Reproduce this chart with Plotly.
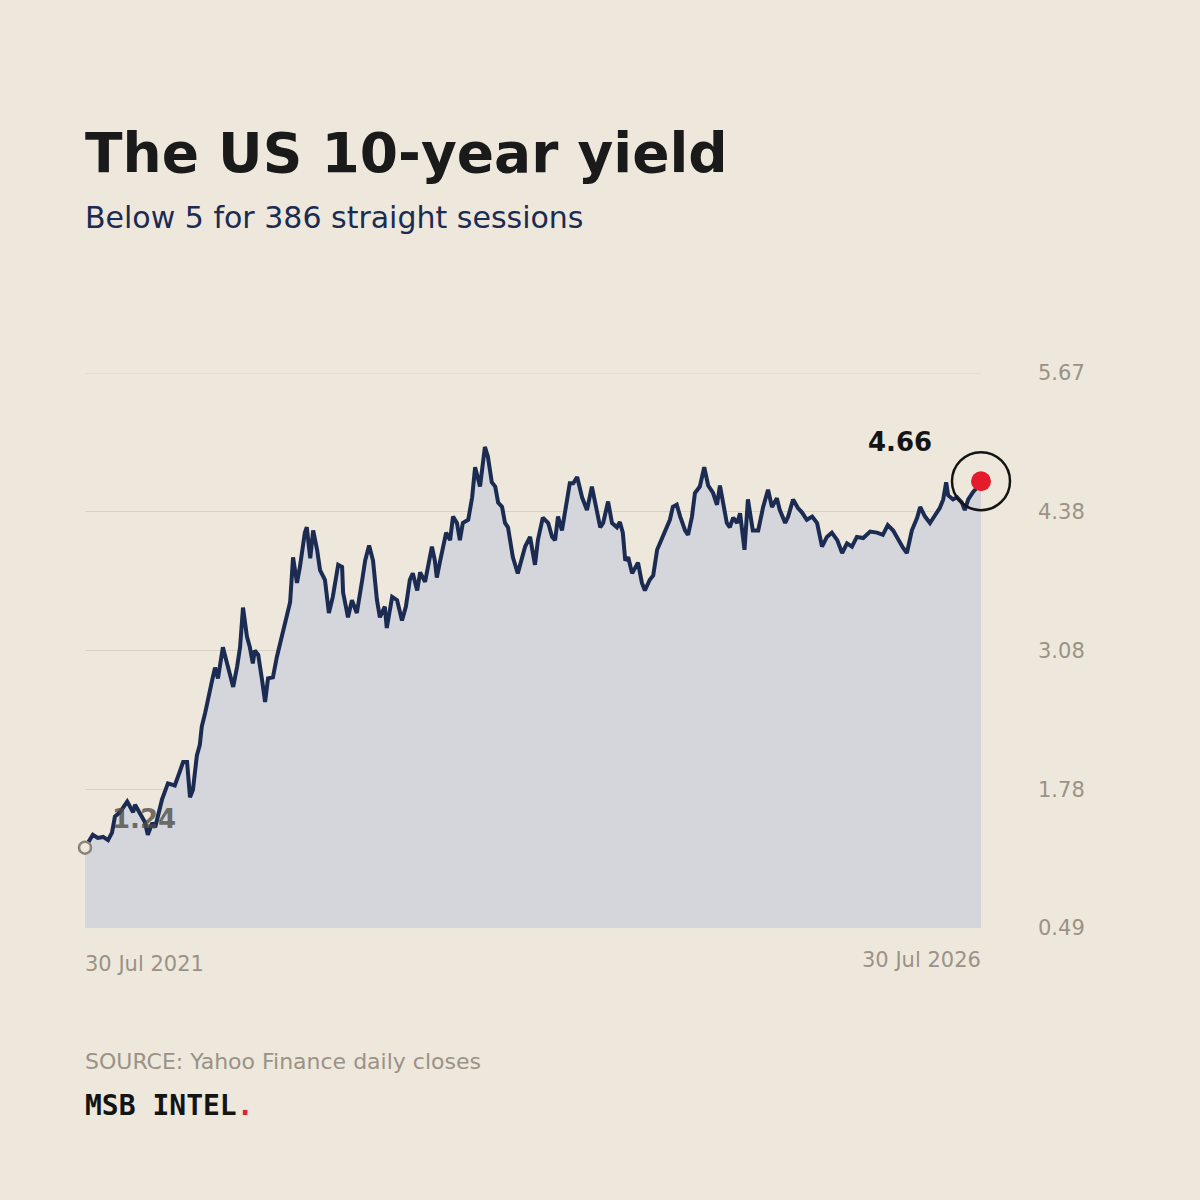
import plotly.graph_objects as go

# ---- data ----
dates = [
    "2021-07-30", "2021-08-09", "2021-08-15", "2021-08-25", "2021-09-05", "2021-09-15", "2021-09-23", "2021-09-29",
    "2021-10-09", "2021-10-24", "2021-10-30", "2021-11-05", "2021-11-09", "2021-11-15", "2021-11-23", "2021-11-29",
    "2021-12-05", "2021-12-14", "2021-12-20", "2021-12-26", "2022-01-03", "2022-01-15", "2022-01-29", "2022-02-09",
    "2022-02-15", "2022-02-23", "2022-03-01", "2022-03-07", "2022-03-15", "2022-03-21", "2022-03-25", "2022-04-01",
    "2022-04-07", "2022-04-15", "2022-04-21", "2022-04-27", "2022-05-07", "2022-05-17", "2022-05-28", "2022-06-05",
    "2022-06-11", "2022-06-17", "2022-06-25", "2022-07-01", "2022-07-07", "2022-07-11", "2022-07-18", "2022-07-26",
    "2022-08-01", "2022-08-07", "2022-08-17", "2022-08-25", "2022-08-31", "2022-09-11", "2022-09-21", "2022-09-27",
    "2022-10-05", "2022-10-11", "2022-10-21", "2022-10-25", "2022-11-01", "2022-11-07", "2022-11-15", "2022-11-21",
    "2022-12-01", "2022-12-09", "2022-12-17", "2022-12-28", "2023-01-05", "2023-01-07", "2023-01-17", "2023-01-25",
    "2023-02-04", "2023-02-15", "2023-02-21", "2023-03-01", "2023-03-09", "2023-03-17", "2023-03-23", "2023-04-02",
    "2023-04-06", "2023-04-17", "2023-04-27", "2023-05-07", "2023-05-15", "2023-05-23", "2023-05-29", "2023-06-07",
    "2023-06-13", "2023-06-23", "2023-06-29", "2023-07-07", "2023-07-13", "2023-07-17", "2023-07-23", "2023-07-30",
    "2023-08-05", "2023-08-13", "2023-08-19", "2023-08-27", "2023-09-02", "2023-09-08", "2023-09-19", "2023-09-27",
    "2023-10-03", "2023-10-13", "2023-10-23", "2023-10-29", "2023-11-06", "2023-11-13", "2023-11-19", "2023-11-27",
    "2023-12-03", "2023-12-09", "2023-12-13", "2023-12-19", "2023-12-29", "2024-01-07", "2024-01-13", "2024-01-23",
    "2024-01-29", "2024-02-02", "2024-02-08", "2024-02-18", "2024-02-29", "2024-03-08", "2024-03-14", "2024-03-20",
    "2024-03-28", "2024-04-03", "2024-04-13", "2024-04-20", "2024-04-28", "2024-05-08", "2024-05-18", "2024-05-28",
    "2024-06-07", "2024-06-14", "2024-06-20", "2024-06-30", "2024-07-08", "2024-07-18", "2024-07-24", "2024-07-30",
    "2024-08-04", "2024-08-10", "2024-08-18", "2024-08-24", "2024-08-30", "2024-09-07", "2024-09-13", "2024-09-23",
    "2024-09-30", "2024-10-08", "2024-10-14", "2024-10-20", "2024-10-28", "2024-11-03", "2024-11-09", "2024-11-17",
    "2024-11-24", "2024-12-04", "2024-12-10", "2024-12-18", "2024-12-24", "2025-01-03", "2025-01-12", "2025-01-20",
    "2025-01-30", "2025-02-07", "2025-02-13", "2025-02-19", "2025-02-27", "2025-03-05", "2025-03-12", "2025-03-20",
    "2025-03-26", "2025-04-04", "2025-04-11", "2025-04-21", "2025-05-02", "2025-05-12", "2025-05-22", "2025-05-30",
    "2025-06-09", "2025-06-15", "2025-06-26", "2025-07-02", "2025-07-12", "2025-07-22", "2025-07-30", "2025-08-09",
    "2025-08-20", "2025-08-30", "2025-09-09", "2025-09-19", "2025-09-29", "2025-10-10", "2025-10-20", "2025-10-30",
    "2025-11-09", "2025-11-19", "2025-12-02", "2025-12-16", "2025-12-30", "2026-01-11", "2026-01-21", "2026-02-01",
    "2026-02-11", "2026-02-21", "2026-03-01", "2026-03-11", "2026-03-22", "2026-03-28", "2026-04-07", "2026-04-17",
    "2026-04-27", "2026-05-07", "2026-05-14", "2026-05-20", "2026-05-24", "2026-06-03", "2026-06-11", "2026-06-21",
    "2026-06-27", "2026-07-04", "2026-07-14", "2026-07-22", "2026-07-30",
]
yields = [
    1.24, 1.31, 1.36, 1.33, 1.34, 1.31, 1.38, 1.53,
    1.57, 1.67, 1.62, 1.57, 1.64, 1.59, 1.54, 1.48,
    1.36, 1.47, 1.43, 1.54, 1.69, 1.84, 1.82, 1.96,
    2.04, 2.04, 1.71, 1.78, 2.10, 2.20, 2.37, 2.50,
    2.65, 2.80, 2.92, 2.82, 3.11, 2.94, 2.74, 2.93,
    3.11, 3.48, 3.21, 3.11, 2.96, 3.08, 3.04, 2.80,
    2.60, 2.82, 2.83, 3.02, 3.13, 3.36, 3.53, 3.95,
    3.71, 3.86, 4.18, 4.23, 3.94, 4.20, 4.02, 3.83,
    3.74, 3.43, 3.58, 3.88, 3.86, 3.62, 3.39, 3.55,
    3.43, 3.74, 3.92, 4.06, 3.92, 3.55, 3.39, 3.49,
    3.29, 3.58, 3.55, 3.36, 3.49, 3.74, 3.80, 3.64,
    3.81, 3.72, 3.86, 4.05, 3.92, 3.76, 3.90, 4.05,
    4.18, 4.11, 4.33, 4.27, 4.11, 4.27, 4.30, 4.51,
    4.79, 4.61, 4.98, 4.89, 4.65, 4.61, 4.46, 4.42,
    4.27, 4.23, 4.11, 3.95, 3.80, 3.95, 4.05, 4.14,
    3.99, 3.88, 4.11, 4.32, 4.27, 4.14, 4.11, 4.33,
    4.20, 4.36, 4.64, 4.64, 4.70, 4.51, 4.39, 4.61,
    4.36, 4.23, 4.27, 4.47, 4.27, 4.23, 4.28, 4.18,
    3.92, 3.95, 3.80, 3.86, 3.90, 3.71, 3.64, 3.74,
    3.78, 4.02, 4.08, 4.14, 4.23, 4.30, 4.42, 4.44,
    4.33, 4.20, 4.16, 4.33, 4.55, 4.61, 4.79, 4.62,
    4.55, 4.44, 4.62, 4.46, 4.27, 4.23, 4.32, 4.27,
    4.36, 4.02, 4.49, 4.20, 4.20, 4.42, 4.58, 4.42,
    4.50, 4.39, 4.27, 4.33, 4.49, 4.41, 4.37, 4.30,
    4.33, 4.27, 4.05, 4.14, 4.18, 4.11, 3.99, 4.08,
    4.05, 4.14, 4.13, 4.19, 4.18, 4.16, 4.25, 4.20,
    4.11, 4.04, 3.99, 4.20, 4.32, 4.42, 4.33, 4.27,
    4.34, 4.41, 4.49, 4.65, 4.53, 4.49, 4.51, 4.46,
    4.39, 4.49, 4.56, 4.60, 4.66,
]
y_ticks = [0.49, 1.78, 3.08, 4.38, 5.67]
x_labels = ["30 Jul 2021", "30 Jul 2026"]

title = "The US 10-year yield"
subtitle = "Below 5 for 386 straight sessions"
source = "SOURCE: Yahoo Finance daily closes"

BG = "#EEE8DC"
NAVY = "#1B2B52"
GRAY = "#9A9287"
GRID = "#D9D1C3"

fig = go.Figure()
fig.add_trace(go.Scatter(
    x=dates, y=yields, mode="lines",
    line=dict(color=NAVY, width=4),
    fill="tozeroy", fillcolor="#D4D6DC",
    hoverinfo="skip", showlegend=False,
))
# start marker
fig.add_trace(go.Scatter(
    x=[dates[0]], y=[yields[0]], mode="markers",
    marker=dict(size=12, color=BG, line=dict(color="#8A8478", width=2.5)),
    showlegend=False, hoverinfo="skip", cliponaxis=False,
))
# end marker
fig.add_trace(go.Scatter(
    x=[dates[-1]], y=[yields[-1]], mode="markers",
    marker=dict(size=20, color="#E31B2B", line=dict(width=0)),
    showlegend=False, hoverinfo="skip", cliponaxis=False,
))
fig.add_trace(go.Scatter(
    x=[dates[-1]], y=[yields[-1]], mode="markers",
    marker=dict(size=58, symbol="circle-open", color="#141414", line=dict(color="#141414", width=2.5)),
    showlegend=False, hoverinfo="skip", cliponaxis=False,
))

# top gridline (Plotly omits gridlines that sit on the plot edge)
fig.add_shape(type="line", xref="paper", x0=0, x1=1, yref="y", y0=y_ticks[-1], y1=y_ticks[-1],
              line=dict(color=GRID, width=1), layer="below")

ann = []
ann.append(dict(x=dates[0], y=yields[0], xref="x", yref="y", xanchor="left", yanchor="middle",
                xshift=25, yshift=29, text=f"<b>{yields[0]:.2f}</b>", showarrow=False,
                font=dict(family="DejaVu Sans", size=26, color="rgba(80,76,70,0.8)")))
ann.append(dict(x=dates[-1], y=yields[-1], xref="x", yref="y", xanchor="right", yanchor="middle",
                xshift=-47, yshift=39, text=f"<b>{yields[-1]:.2f}</b>", showarrow=False,
                font=dict(family="DejaVu Sans", size=26, color="#141414")))
ann.append(dict(x=dates[0], y=y_ticks[0], xref="x", yref="y", xanchor="left", yanchor="middle",
                xshift=-2, yshift=-36, text=x_labels[0], showarrow=False,
                font=dict(family="DejaVu Sans", size=21, color=GRAY)))
ann.append(dict(x=dates[-1], y=y_ticks[0], xref="x", yref="y", xanchor="right", yanchor="middle",
                xshift=2, yshift=-32, text=x_labels[1], showarrow=False,
                font=dict(family="DejaVu Sans", size=21, color=GRAY)))
ann.append(dict(x=0, y=(928 - 153) / 555, xref="paper", yref="paper", xanchor="left", yanchor="middle",
                xshift=-2, text=f"<b>{title}</b>", showarrow=False,
                font=dict(family="DejaVu Sans", size=55, color="#1A1A1A")))
ann.append(dict(x=0, y=(928 - 217) / 555, xref="paper", yref="paper", xanchor="left", yanchor="middle",
                xshift=-2, text=subtitle, showarrow=False,
                font=dict(family="DejaVu Sans", size=30, color=NAVY)))
ann.append(dict(x=0, y=(928 - 1061) / 555, xref="paper", yref="paper", xanchor="left", yanchor="middle",
                xshift=-2, text=source, showarrow=False,
                font=dict(family="DejaVu Sans", size=22, color=GRAY)))
ann.append(dict(x=0, y=(928 - 1105) / 555, xref="paper", yref="paper", xanchor="left", yanchor="middle",
                xshift=-2, text="<b>MSB INTEL<span style='color:#D7263D'>.</span></b>", showarrow=False,
                font=dict(family="DejaVu Sans Mono", size=28, color="#141414")))

fig.update_layout(
    width=1200, height=1200,
    paper_bgcolor=BG, plot_bgcolor=BG,
    margin=dict(l=85, r=219, t=373, b=272),
    showlegend=False,
    annotations=ann,
    xaxis=dict(range=[dates[0], dates[-1]], showgrid=False, zeroline=False,
               showticklabels=False, ticks="", showline=False),
    yaxis=dict(range=[y_ticks[0], y_ticks[-1]], side="right",
               tickvals=y_ticks, ticktext=[f"{v:.2f}" for v in y_ticks],
               showgrid=True, gridcolor=GRID, gridwidth=1, zeroline=False,
               ticks="", ticklabelstandoff=56, showline=False,
               tickfont=dict(family="DejaVu Sans", size=21, color=GRAY)),
)

fig.write_html("out.html")
